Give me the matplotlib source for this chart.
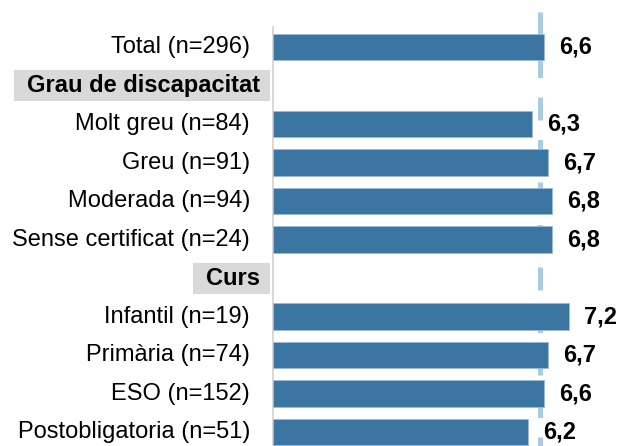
import matplotlib
matplotlib.use("Agg")
import matplotlib.pyplot as plt
from matplotlib.patches import Rectangle
from matplotlib.transforms import IdentityTransform

plt.rcParams['font.family'] = ['Liberation Sans', 'DejaVu Sans']
plt.rcParams['lines.scale_dashes'] = False

# Rows from top to bottom; None marks a group header row
labels = ["Total (n=296)", "Grau de discapacitat", "Molt greu (n=84)", "Greu (n=91)",
          "Moderada (n=94)", "Sense certificat (n=24)", "Curs", "Infantil (n=19)",
          "Primària (n=74)", "ESO (n=152)", "Postobligatoria (n=51)"]
values = [6.6, None, 6.3, 6.7, 6.8, 6.8, None, 7.2, 6.7, 6.6, 6.2]
reference_value = 6.5

BAR = "#3B76A2"
EDGE = "#9DBBD6"
DASH = "#A9CBE3"
HEAD_BG = "#D9D9D9"
AXIS = "#D9D9D9"

W, H, DPI = 618, 446, 100
fig = plt.figure(figsize=(W / DPI, H / DPI), dpi=DPI)
ax = fig.add_axes([273 / W, 0, 1 - 273 / W, 1])

px = 0.72  # points per pixel at 100 dpi
row_h = 38.5
first = 47.0
ax.set_xlim(0, 8.4)
ax.set_ylim((H - first) / row_h, -first / row_h)
ax.axis("off")

# reference dashed line (behind the bars)
ax.plot([reference_value, reference_value], [(11.5 - first) / row_h, (H + 20 - first) / row_h],
        color=DASH, lw=5 * px, dashes=(23 * px, 19.5 * px), solid_capstyle="butt",
        dash_capstyle="butt", zorder=1)

# left axis line
ax.plot([0, 0], [(27 - first) / row_h, (H + 5 - first) / row_h], color=AXIS, lw=2 * px,
        clip_on=False, zorder=1)

headers = []
for i, (lab, v) in enumerate(zip(labels, values)):
    if v is None:
        t = ax.annotate(lab, xy=(0, i), xycoords=("axes fraction", "data"),
                        xytext=(-13 * px, 0), textcoords="offset points",
                        ha="right", va="center", fontsize=17, fontweight="bold",
                        annotation_clip=False, zorder=5)
        headers.append((t, i))
    else:
        ax.barh(i, v, height=0.68, color=BAR, edgecolor=EDGE, linewidth=0.6, zorder=2)
        ax.annotate(lab, xy=(0, i), xycoords=("axes fraction", "data"),
                    xytext=(-23 * px, 0), textcoords="offset points",
                    ha="right", va="center", fontsize=17, annotation_clip=False)
        ax.annotate(f"{v:.1f}".replace(".", ","), xy=(v, i), xytext=(15 * px, 0),
                    textcoords="offset points", ha="left", va="center",
                    fontsize=17, fontweight="bold")

# grey boxes behind the group headers
fig.canvas.draw()
renderer = fig.canvas.get_renderer()
for t, i in headers:
    bb = t.get_window_extent(renderer)
    yc = ax.transData.transform((0, i))[1]
    x0 = bb.x0 - 13
    x1 = ax.transAxes.transform((0, 0))[0] - 3
    rect = Rectangle((x0, yc - 15.5), x1 - x0, 31, transform=IdentityTransform(),
                     facecolor=HEAD_BG, edgecolor="none", zorder=0.5, clip_on=False)
    ax.add_artist(rect)

fig.savefig("out.png", dpi=DPI)
